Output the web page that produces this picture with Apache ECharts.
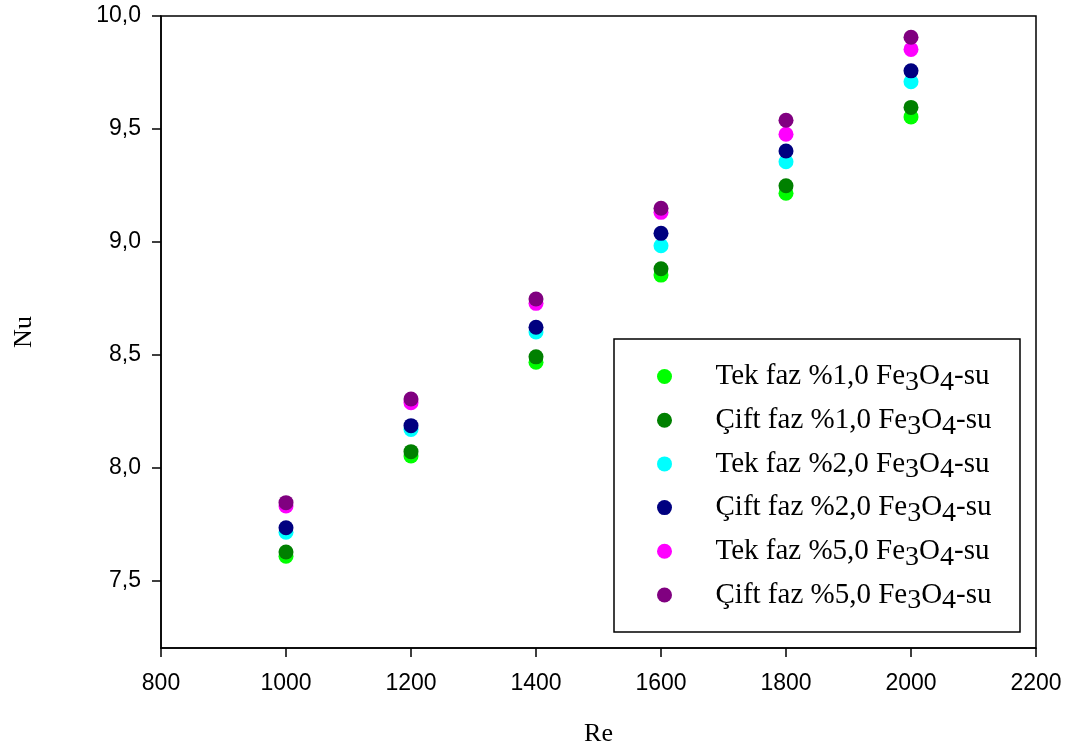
<!DOCTYPE html>
<html>
<head>
<meta charset="utf-8">
<script src="https://cdn.jsdelivr.net/npm/echarts@6/dist/echarts.min.js"></script>
<style>html,body{margin:0;padding:0;background:#fff}#c{width:1073px;height:752px}</style>
</head>
<body>
<div id="c"></div>
<script>
const re = [1000, 1200, 1400, 1600, 1800, 2000];
const tek1 = [7.607, 8.051, 8.466, 8.852, 9.215, 9.553];
const cift1 = [7.625, 8.070, 8.490, 8.880, 9.248, 9.595];
const tek2 = [7.713, 8.168, 8.600, 8.982, 9.354, 9.709];
const cift2 = [7.733, 8.185, 8.621, 9.037, 9.402, 9.757];
const tek5 = [7.829, 8.287, 8.727, 9.130, 9.476, 9.852];
const cift5 = [7.844, 8.303, 8.746, 9.148, 9.538, 9.906];
const yTicks = [7.5, 8.0, 8.5, 9.0, 9.5, 10.0];
const seriesNames = [
  'Tek faz %1,0 Fe{sub|3}O{sub|4}-su',
  'Çift faz %1,0 Fe{sub|3}O{sub|4}-su',
  'Tek faz %2,0 Fe{sub|3}O{sub|4}-su',
  'Çift faz %2,0 Fe{sub|3}O{sub|4}-su',
  'Tek faz %5,0 Fe{sub|3}O{sub|4}-su',
  'Çift faz %5,0 Fe{sub|3}O{sub|4}-su'
];
const seriesValues = [tek1, cift1, tek2, cift2, tek5, cift5];
const colors = ['#00FF00', '#008000', '#00FFFF', '#000080', '#FF00FF', '#800080'];

const chart = echarts.init(document.getElementById('c'), null, {renderer: 'canvas'});
const series = seriesValues.map((vals, i) => ({
  name: seriesNames[i],
  type: 'scatter',
  symbol: 'circle',
  symbolSize: 15,
  itemStyle: {color: colors[i], opacity: 1},
  data: re.map((x, j) => [x, vals[j]]),
  z: 2 + i
}));

chart.setOption({
  animation: false,
  backgroundColor: '#fff',
  grid: {left: 161, right: 37, top: 16, bottom: 104, show: true, borderColor: '#000', borderWidth: 1.5, backgroundColor: 'transparent'},
  xAxis: {
    type: 'value', min: 800, max: 2200, interval: 200,
    name: 'Re', nameLocation: 'middle', nameGap: 73,
    nameTextStyle: {fontFamily: 'Liberation Serif', fontSize: 26, color: '#000'},
    axisLine: {show: true, onZero: false, lineStyle: {color: '#000', width: 1.5}},
    axisTick: {show: true, inside: false, length: 9, lineStyle: {color: '#000', width: 1.5}},
    axisLabel: {fontFamily: 'Liberation Sans', fontSize: 23, color: '#000', margin: 24, formatter: v => String(v)},
    splitLine: {show: false}
  },
  yAxis: {
    type: 'value', min: 7.2, max: 10.0,
    name: 'Nu', nameLocation: 'middle', nameGap: 124, nameRotate: 90,
    nameTextStyle: {fontFamily: 'Liberation Serif', fontSize: 26, color: '#000'},
    axisLine: {show: true, onZero: false, lineStyle: {color: '#000', width: 1.5}},
    axisTick: {show: true, inside: false, length: 9, customValues: yTicks, lineStyle: {color: '#000', width: 1.5}},
    axisLabel: {fontFamily: 'Liberation Sans', fontSize: 23, color: '#000', margin: 20, customValues: yTicks,
      formatter: v => v.toFixed(1).replace('.', ',')},
    splitLine: {show: false}
  },
  legend: {
    orient: 'vertical', left: 657, top: 356.5, padding: 0, z: 60,
    itemWidth: 92, itemHeight: 15, itemGap: 3.7,
    icon: 'circle',
    data: seriesNames,
    textStyle: {fontFamily: 'Liberation Serif', fontSize: 29, lineHeight: 30, color: '#000',
      rich: {sub: {fontFamily: 'Liberation Serif', fontSize: 28, lineHeight: 30, color: '#000', padding: [12, 0, 0, 0]}}}
  },
  graphic: [{
    type: 'rect', shape: {x: 614, y: 339, width: 406, height: 293},
    style: {fill: '#fff', stroke: '#000', lineWidth: 1.5}, z: 10
  }],
  series: series
});
</script>
</body>
</html>
